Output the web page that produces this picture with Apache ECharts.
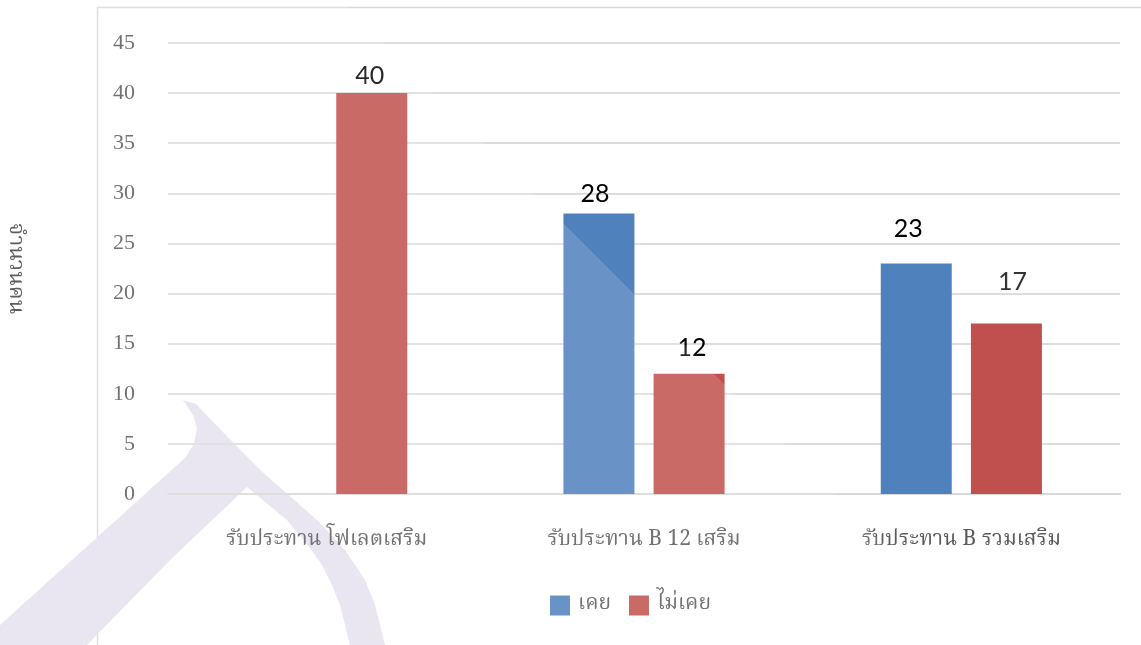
<!DOCTYPE html>
<html>
<head>
<meta charset="utf-8">
<script src="https://cdn.jsdelivr.net/npm/echarts@6/dist/echarts.min.js"></script>
<style>html,body{margin:0;padding:0;background:#fff;}#c{width:1141px;height:645px;}</style>
</head>
<body>
<div id="c"></div>
<script>
var categories = ['รับประทาน โฟเลตเสริม', 'รับประทาน B 12 เสริม', 'รับประทาน B รวมเสริม'];
var seriesNames = ['เคย', 'ไม่เคย'];
var everValues = [null, 28, 23];
var neverValues = [40, 12, 17];
var yTicks = { min: 0, max: 45, interval: 5 };
var yAxisTitle = 'จำนวนคน';

var thaiFont = '"Noto Serif Thai","Noto Sans Thai","Liberation Serif",serif';
var chart = echarts.init(document.getElementById('c'), null, { renderer: 'canvas' });

// per-label nudges (styling only)
var everOffsets = [[0, 0], [-4, -2], [-8, -17]];
var neverOffsets = [[-2, 0], [3, -8], [6, -24]];
var neverLabelColors = ['#000', '#000', '#333'];

function makeData(values, offsets, colors) {
  return values.map(function (v, i) {
    return {
      value: v,
      label: { offset: offsets[i], color: colors ? colors[i] : '#000' }
    };
  });
}

var watermark = [[0,625],[185,458],[194,444],[197,428],[193,415],[183,400],[196,404],[215,424],[260,470],[317,520],[345,550],[365,580],[375,605],[385,645],[350,645],[340,605],[332,585],[322,565],[310,548],[287,520],[247,487],[170,560],[87,645],[0,645]];

var option = {
  backgroundColor: '#fff',
  animation: false,
  grid: { left: 168, right: 21, top: 43, bottom: 151, containLabel: false, outerBoundsMode: 'none' },
  legend: {
    data: seriesNames,
    bottom: 24,
    left: 545,
    itemWidth: 20,
    itemHeight: 20,
    itemGap: 18,
    icon: 'rect',
    textStyle: { fontFamily: thaiFont, fontSize: 21, color: '#595959', padding: [0, 0, 0, 3] }
  },
  xAxis: {
    type: 'category',
    data: categories,
    axisLine: { show: true, lineStyle: { color: '#d9d9d9', width: 2 } },
    axisTick: { show: false },
    axisLabel: { fontFamily: thaiFont, fontSize: 21, color: '#595959', margin: 37 }
  },
  yAxis: {
    type: 'value',
    min: yTicks.min,
    max: yTicks.max,
    interval: yTicks.interval,
    name: yAxisTitle,
    nameLocation: 'middle',
    nameRotate: -90,
    nameGap: 143,
    nameTextStyle: { fontFamily: thaiFont, fontSize: 22, color: '#404040' },
    axisLine: { show: false },
    axisTick: { show: false },
    splitLine: { lineStyle: { color: '#dddddd', width: 2 } },
    axisLabel: { fontFamily: '"Liberation Serif","Times New Roman",serif', fontSize: 22, color: '#595959', margin: 33 }
  },
  series: [
    {
      name: seriesNames[0],
      type: 'bar',
      barWidth: 71,
      barGap: '27%',
      itemStyle: { color: '#4f81bd' },
      label: { show: true, position: 'top', fontFamily: 'Lato,"Liberation Sans",sans-serif', fontSize: 25, color: '#000' },
      data: makeData(everValues, everOffsets)
    },
    {
      name: seriesNames[1],
      type: 'bar',
      barWidth: 71,
      barGap: '27%',
      itemStyle: { color: '#c0504d' },
      label: { show: true, position: 'top', fontFamily: 'Lato,"Liberation Sans",sans-serif', fontSize: 25, color: '#000' },
      data: makeData(neverValues, neverOffsets, neverLabelColors)
    }
  ],
  graphic: [
    {
      type: 'rect',
      z: -10,
      shape: { x: 97.5, y: 7.5, width: 1200, height: 800 },
      style: { fill: 'none', stroke: '#d9d9d9', lineWidth: 1.5 },
      silent: true
    },
    {
      type: 'polygon',
      z: -5,
      silent: true,
      shape: { points: watermark },
      style: { fill: '#e6e1ef' }
    },
    {
      type: 'polygon',
      z: 100,
      silent: true,
      shape: { points: [[340, 0], [985, 645], [0, 645], [0, 0]] },
      style: { fill: 'rgba(255,255,255,0.15)' }
    }
  ]
};
chart.setOption(option);
</script>
</body>
</html>
